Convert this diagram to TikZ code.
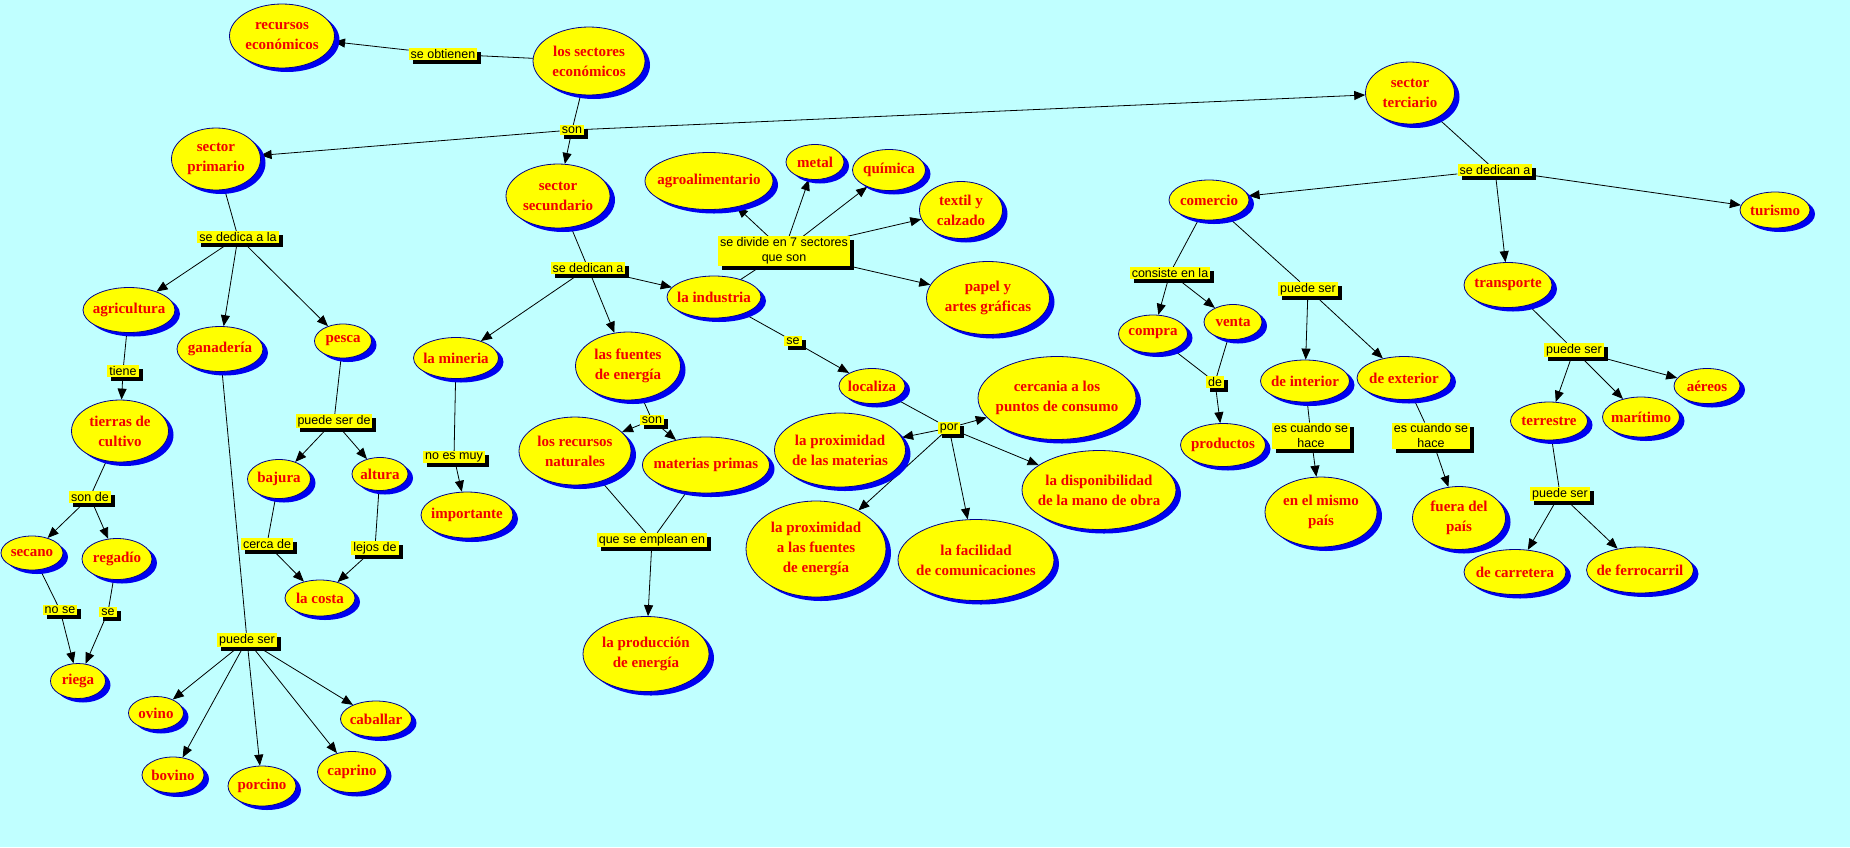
\documentclass[tikz,border=0pt]{standalone}
\usepackage{fontspec}
\setmainfont{Liberation Serif}
\newfontfamily\lblfam{Liberation Sans}
\usetikzlibrary{shapes.geometric,shadows,arrows.meta}
\definecolor{bgc}{HTML}{C0FFFF}
\definecolor{yel}{HTML}{FFFF00}
\definecolor{nav}{HTML}{00008B}
\definecolor{shb}{HTML}{0000F0}
\definecolor{txr}{HTML}{F00000}
\pgfdeclarelayer{bg}
\pgfsetlayers{bg,main}
\tikzset{
  cn/.style={ellipse, draw=nav, line width=0.8pt, fill=yel, inner sep=0pt,
    drop shadow={shadow xshift=5pt, shadow yshift=-4pt, fill=shb, opacity=1}},
  ctext/.style={text=txr, font=\bfseries\fontsize{15}{20}\selectfont, align=center, inner sep=0pt},
  lb/.style={rectangle, fill=yel, text=black, font=\lblfam\fontsize{12.5}{15}\selectfont,
    align=center, inner xsep=2pt, inner ysep=1.2pt,
    drop shadow={shadow xshift=4pt, shadow yshift=-4pt, fill=black, opacity=1}},
  ln/.style={draw=black, line width=0.8pt},
  ar/.style={ln, -{Triangle[length=11pt,width=9pt]}},
}
\newcommand\cmnode[6]{\node[cn, minimum width=#4pt, minimum height=#5pt, label={[ctext]center:{#6}}] (#1) at (#2,#3) {};}
\begin{document}
\begin{tikzpicture}[x=1pt,y=-1pt]
\useasboundingbox (0,0) rectangle (1850,847);
% concept nodes
\cmnode{rec}{282}{36}{105}{64}{recursos\\económicos}
\cmnode{sect}{589}{61}{112}{68}{los sectores\\económicos}
\cmnode{terc}{1410}{93}{89}{62}{sector\\terciario}
\cmnode{prim}{216}{159}{89}{62}{sector\\primario}
\cmnode{secu}{558}{196}{104}{64}{sector\\secundario}
\cmnode{agro}{709}{181}{128}{57}{agroalimentario}
\cmnode{metal}{815}{162}{58}{35}{metal}
\cmnode{quim}{889}{170}{73}{41}{química}
\cmnode{text}{961}{210}{83}{57}{textil y\\calzado}
\cmnode{indu}{714}{297}{94}{42}{la industria}
\cmnode{papel}{988}{298}{123}{73}{papel y\\artes gráficas}
\cmnode{agri}{129}{310}{92}{45}{agricultura}
\cmnode{gana}{220}{349}{86}{45}{ganadería}
\cmnode{pesca}{343}{341}{57}{34}{pesca}
\cmnode{mine}{456}{358}{85}{41}{la mineria}
\cmnode{fuen}{628}{366}{105}{68}{las fuentes\\de energía}
\cmnode{loca}{872}{386}{66}{35}{localiza}
\cmnode{cerc}{1057}{398}{158}{83}{cercania a los\\puntos de consumo}
\cmnode{tier}{120}{431}{97}{62}{tierras de\\cultivo}
\cmnode{rnat}{575}{451}{112}{68}{los recursos\\naturales}
\cmnode{mpri}{706}{465}{127}{56}{materias primas}
\cmnode{pmat}{840}{450}{131}{74}{la proximidad\\de las materias}
\cmnode{disp}{1099}{490}{154}{79}{la disponibilidad\\de la mano de obra}
\cmnode{baju}{279}{479}{63}{39}{bajura}
\cmnode{altu}{380}{474}{56}{33}{altura}
\cmnode{impo}{467}{515}{92}{46}{importante}
\cmnode{seca}{32}{553}{62}{34}{secano}
\cmnode{rega}{117}{559}{70}{41}{regadío}
\cmnode{cost}{320}{598}{70}{36}{la costa}
\cmnode{rieg}{78}{681}{55}{35}{riega}
\cmnode{ovin}{156}{713}{55}{33}{ovino}
\cmnode{bovi}{173}{775}{62}{36}{bovino}
\cmnode{porc}{262}{786}{68}{40}{porcino}
\cmnode{capr}{352}{772}{69}{41}{caprino}
\cmnode{caba}{376}{719}{71}{36}{caballar}
\cmnode{pfue}{816}{549}{140}{96}{la proximidad\\a las fuentes\\de energía}
\cmnode{faci}{976}{560}{156}{81}{la facilidad\\de comunicaciones}
\cmnode{pene}{646}{654}{126}{75}{la producción\\de energía}
\cmnode{come}{1209}{200}{80}{40}{comercio}
\cmnode{turi}{1775}{210}{70}{36}{turismo}
\cmnode{tran}{1508}{285}{88}{45}{transporte}
\cmnode{comp}{1153}{334}{69}{38}{compra}
\cmnode{vent}{1233}{322}{58}{35}{venta}
\cmnode{inte}{1305}{381}{89}{42}{de interior}
\cmnode{exte}{1404}{378}{94}{43}{de exterior}
\cmnode{prod}{1223}{445}{85}{43}{productos}
\cmnode{mism}{1321}{512}{112}{70}{en el mismo\\país}
\cmnode{fuer}{1459}{518}{93}{63}{fuera del\\país}
\cmnode{terr}{1549}{421}{77}{38}{terrestre}
\cmnode{mari}{1641}{417}{77}{40}{marítimo}
\cmnode{aere}{1707}{386}{66}{35}{aéreos}
\cmnode{carr}{1515}{572}{102}{45}{de carretera}
\cmnode{ferr}{1640}{570}{107}{46}{de ferrocarril}
% link labels
\node[lb] (lobt) at (443,54) {se obtienen};
\node[lb] (lson) at (572,130) {son};
\node[lb] (lded) at (238,237) {se dedica a la};
\node[lb] (ltie) at (123,371) {tiene};
\node[lb] (lsonde) at (90,497) {son de};
\node[lb] (lnose) at (60,610) {no se};
\node[lb] (lse) at (108,612) {se};
\node[lb] (lps1) at (247,640) {puede ser};
\node[lb] (lpsde) at (334,421) {puede ser de};
\node[lb] (lcer) at (267,544) {cerca de};
\node[lb] (llej) at (375,548) {lejos de};
\node[lb] (lded2) at (588,268) {se dedican a};
\node[lb] (lnoes) at (454,457) {no es muy};
\node[lb] (lson2) at (652,420) {son};
\node[lb] (lemp) at (652,540) {que se emplean en};
\node[lb] (ldiv) at (784,251) {se divide en 7 sectores\\que son};
\node[lb] (lse2) at (793,341) {se};
\node[lb] (lpor) at (949,428) {por};
\node[lb] (lded3) at (1495,170) {se dedican a};
\node[lb] (lcons) at (1170,273) {consiste en la};
\node[lb] (lps2) at (1308,289) {puede ser};
\node[lb] (lde) at (1215,382) {de};
\node[lb] (lesc1) at (1311,436) {es cuando se\\hace};
\node[lb] (lesc2) at (1431,436) {es cuando se\\hace};
\node[lb] (lps3) at (1574,350) {puede ser};
\node[lb] (lps4) at (1560,494) {puede ser};
\begin{pgfonlayer}{bg}
\fill[bgc] (0,0) rectangle (1850,847);
\draw[ln] (sect) -- (lobt); \draw[ar] (lobt) -- (rec);
\draw[ln] (sect) -- (lson); \draw[ar] (lson) -- (prim); \draw[ar] (lson) -- (secu); \draw[ar] (lson) -- (terc);
\draw[ln] (prim) -- (lded); \draw[ar] (lded) -- (agri); \draw[ar] (lded) -- (gana); \draw[ar] (lded) -- (pesca);
\draw[ln] (agri) -- (ltie); \draw[ar] (ltie) -- (tier);
\draw[ln] (tier) -- (lsonde); \draw[ar] (lsonde) -- (seca); \draw[ar] (lsonde) -- (rega);
\draw[ln] (seca) -- (lnose); \draw[ar] (lnose) -- (rieg);
\draw[ln] (rega) -- (lse); \draw[ar] (lse) -- (rieg);
\draw[ln] (gana) -- (lps1); \draw[ar] (lps1) -- (ovin); \draw[ar] (lps1) -- (bovi); \draw[ar] (lps1) -- (porc); \draw[ar] (lps1) -- (capr); \draw[ar] (lps1) -- (caba);
\draw[ln] (pesca) -- (lpsde); \draw[ar] (lpsde) -- (baju); \draw[ar] (lpsde) -- (altu);
\draw[ln] (baju) -- (lcer); \draw[ar] (lcer) -- (cost);
\draw[ln] (altu) -- (llej); \draw[ar] (llej) -- (cost);
\draw[ln] (secu) -- (lded2); \draw[ar] (lded2) -- (mine); \draw[ar] (lded2) -- (fuen); \draw[ar] (lded2) -- (indu);
\draw[ln] (mine) -- (lnoes); \draw[ar] (lnoes) -- (impo);
\draw[ln] (fuen) -- (lson2); \draw[ar] (lson2) -- (rnat); \draw[ar] (lson2) -- (mpri);
\draw[ln] (rnat) -- (lemp); \draw[ln] (mpri) -- (lemp); \draw[ar] (lemp) -- (pene);
\draw[ln] (indu) -- (ldiv); \draw[ar] (ldiv) -- (agro); \draw[ar] (ldiv) -- (metal); \draw[ar] (ldiv) -- (quim); \draw[ar] (ldiv) -- (text); \draw[ar] (ldiv) -- (papel);
\draw[ln] (indu) -- (lse2); \draw[ar] (lse2) -- (loca);
\draw[ln] (loca) -- (lpor); \draw[ar] (lpor) -- (pmat); \draw[ar] (lpor) -- (cerc); \draw[ar] (lpor) -- (disp); \draw[ar] (lpor) -- (faci); \draw[ar] (lpor) -- (pfue);
\draw[ln] (terc) -- (lded3); \draw[ar] (lded3) -- (come); \draw[ar] (lded3) -- (tran); \draw[ar] (lded3) -- (turi);
\draw[ln] (come) -- (lcons); \draw[ar] (lcons) -- (comp); \draw[ar] (lcons) -- (vent);
\draw[ln] (comp) -- (lde); \draw[ln] (vent) -- (lde); \draw[ar] (lde) -- (prod);
\draw[ln] (come) -- (lps2); \draw[ar] (lps2) -- (inte); \draw[ar] (lps2) -- (exte);
\draw[ln] (inte) -- (lesc1); \draw[ar] (lesc1) -- (mism);
\draw[ln] (exte) -- (lesc2); \draw[ar] (lesc2) -- (fuer);
\draw[ln] (tran) -- (lps3); \draw[ar] (lps3) -- (terr); \draw[ar] (lps3) -- (mari); \draw[ar] (lps3) -- (aere);
\draw[ln] (terr) -- (lps4); \draw[ar] (lps4) -- (carr); \draw[ar] (lps4) -- (ferr);
\end{pgfonlayer}
\end{tikzpicture}
\end{document}
